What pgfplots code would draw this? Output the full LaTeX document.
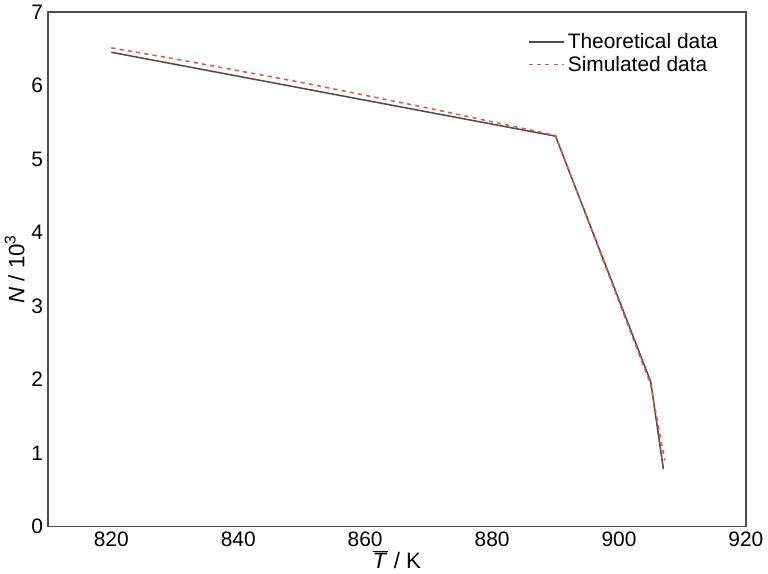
\documentclass[border=0pt]{standalone}
\usepackage{pgfplots}
\pgfplotsset{compat=1.18}
\usepackage{fontspec}
\setmainfont{Liberation Sans}
\definecolor{simred}{RGB}{232,85,65}
\begin{document}
\begin{tikzpicture}
\begin{axis}[
  width=499bp, height=368bp, scale only axis,
  xmin=810, xmax=920, ymin=0, ymax=7,
  xtick={820,840,860,880,900,920},
  ytick={0,1,2,3,4,5,6,7},
  tick style={draw=none},
  axis line style={line width=1pt, black!70},
  /pgf/number format/assume math mode=true,
  /pgf/number format/1000 sep={},
  ticklabel style={font=\fontsize{15}{17}\selectfont},
  label style={font=\fontsize{16}{19}\selectfont},
  xlabel={$\overline{\mbox{\textit{T}}}$ / K},
  ylabel={\textit{N} / 10\textsuperscript{3}},
  xlabel style={yshift=4pt},
  ylabel style={yshift=-2pt},
  legend style={draw=none, at={(0.97,0.97)}, anchor=north east, font=\fontsize{15}{18}\selectfont, fill=none},
  legend cell align=left,
  legend image post style={xscale=1.5},
]
\addplot[line width=1.1pt, black!70] coordinates {(820,6.45) (890,5.31) (905,1.97) (907,0.78)};
\addlegendentry{Theoretical data}
\addplot[line width=1.1pt, dashed, simred] coordinates {(820,6.51) (830,6.36) (850,6.04) (870,5.69) (890,5.32) (905,1.93) (907.2,0.9)};
\addlegendentry{Simulated data}
\end{axis}
\end{tikzpicture}
\end{document}
